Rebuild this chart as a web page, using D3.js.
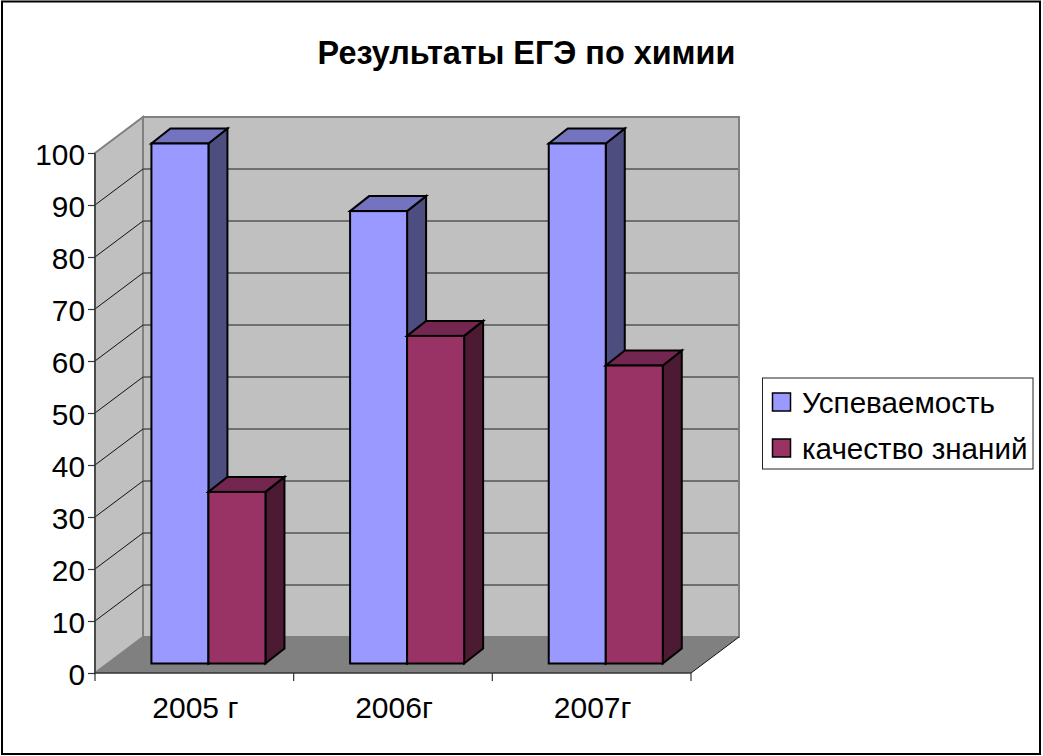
<!DOCTYPE html>
<html><head><meta charset="utf-8">
<script src="https://cdn.jsdelivr.net/npm/d3@7"></script>
<style>html,body{margin:0;padding:0;background:#fff}svg{display:block}text{font-family:"Liberation Sans",Arial,sans-serif;fill:#000}</style>
</head><body><svg id="c" width="1043" height="756"></svg>
<script>
const title = "Результаты ЕГЭ по химии";
const categories = ["2005 г","2006г","2007г"];
const seriesNames = ["Успеваемость","качество знаний"];
const uspevaemost = [100,87,100];
const kachestvo = [33,63,57.3];
const yTicks = [0,10,20,30,40,50,60,70,80,90,100];
const colors = {"Успеваемость":["#9999ff","#7373bf","#4d4d80"],"качество знаний":["#993366","#732650","#4d1a33"]};
const values = {"Успеваемость":uspevaemost,"качество знаний":kachestvo};

const svg = d3.select("#c");
svg.append("rect").attr("x",2).attr("y",1.5).attr("width",1038).attr("height",752.5).attr("fill","#fff").attr("stroke","#000").attr("stroke-width",2);

svg.append("text").attr("x",526.5).attr("y",64).attr("text-anchor","middle").attr("font-size",32.4).attr("font-weight","bold").text(title);

const x0=95,x1=691,y0=673,y100=153,dx=48,dy=-36;
const y = d3.scaleLinear().domain([0,100]).range([y0,y100]);
const xTickScale = d3.scalePoint().domain(d3.range(categories.length+1)).range([x0,x1]);
const barDx=14.1, barDy=-9.5, depthX=19, depthY=-15;
const xCat = d3.scaleBand().domain(categories).range([x0+barDx,x1+barDx]).paddingInner(0.426).paddingOuter(0.213);
const xSer = d3.scaleBand().domain(seriesNames).range([0,xCat.bandwidth()]);
const pts = a=>a.map(p=>p.join(",")).join(" ");

// walls
svg.append("polygon").attr("points",pts([[x0,y(100)],[x0+dx,y(100)+dy],[x0+dx,y(0)+dy],[x0,y(0)]])).attr("fill","#c0c0c0").attr("stroke","#808080").attr("stroke-width",2);
svg.append("polygon").attr("points",pts([[x0+dx,y(100)+dy],[x1+dx,y(100)+dy],[x1+dx,y(0)+dy],[x0+dx,y(0)+dy]])).attr("fill","#c0c0c0").attr("stroke","#808080").attr("stroke-width",2);
svg.append("polygon").attr("points",pts([[x0,y(0)],[x0+dx,y(0)+dy],[x1+dx,y(0)+dy],[x1,y(0)]])).attr("fill","#808080");

// gridlines
yTicks.filter(t=>t>0&&t<100).forEach(t=>{
  svg.append("line").attr("x1",x0+dx).attr("x2",x1+dx-1).attr("y1",y(t)+dy).attr("y2",y(t)+dy).attr("stroke","#555").attr("stroke-width",1.4);
  svg.append("line").attr("x1",x0).attr("x2",x0+dx).attr("y1",y(t)).attr("y2",y(t)+dy).attr("stroke","#111").attr("stroke-width",1);
});
svg.append("line").attr("x1",x1).attr("y1",y0).attr("x2",x1+dx).attr("y2",y0+dy).attr("stroke","#111").attr("stroke-width",1);

// axes
const gy = svg.append("g").attr("transform",`translate(${x0},0)`).call(d3.axisLeft(y).tickValues(yTicks).tickSize(7).tickPadding(3));
gy.select(".domain").attr("stroke","#333").attr("stroke-width",1.4).attr("d",`M0,${y100}V${y0}`);
gy.selectAll(".tick line").attr("stroke","#333").attr("stroke-width",1.2);
gy.selectAll("text").attr("font-size",29.8).attr("font-family",'"Liberation Sans"').attr("fill","#000").attr("dy","0.4em");
svg.append("line").attr("x1",x0).attr("x2",x1).attr("y1",y0).attr("y2",y0).attr("stroke","#333").attr("stroke-width",1.4);
d3.range(categories.length+1).forEach(i=>svg.append("line").attr("x1",xTickScale(i)).attr("x2",xTickScale(i)).attr("y1",y0).attr("y2",y0+8).attr("stroke","#333").attr("stroke-width",1.2));
categories.forEach((c,i)=>svg.append("text").attr("x",(xTickScale(i)+xTickScale(i+1))/2+1).attr("y",718).attr("text-anchor","middle").attr("font-size",30).text(c));

// bars
categories.forEach((c,i)=>{
  seriesNames.forEach(s=>{
    const v=values[s][i], l=xCat(c)+xSer(s), r=l+xSer.bandwidth(), t=y(v)+barDy, b=y(0)+barDy;
    const col=colors[s];
    const st=sel=>sel.attr("stroke","#000").attr("stroke-width",2).attr("stroke-linejoin","miter");
    st(svg.append("polygon").attr("points",pts([[r,t],[r+depthX,t+depthY],[r+depthX,b+depthY],[r,b]])).attr("fill",col[2]));
    st(svg.append("polygon").attr("points",pts([[l,t],[l+depthX,t+depthY],[r+depthX,t+depthY],[r,t]])).attr("fill",col[1]));
    st(svg.append("rect").attr("x",l).attr("y",t).attr("width",r-l).attr("height",b-t).attr("fill",col[0]));
  });
});

// legend
svg.append("rect").attr("x",762.5).attr("y",378).attr("width",270.5).attr("height",91).attr("fill","#fff").attr("stroke","#222").attr("stroke-width",1);
seriesNames.forEach((s,i)=>{
  const ly=393+i*46;
  svg.append("rect").attr("x",772.5).attr("y",ly).attr("width",18).attr("height",18).attr("fill",colors[s][0]).attr("stroke","#000").attr("stroke-width",1.5);
  svg.append("text").attr("x",802).attr("y",ly+20).attr("font-size",29.6).text(s);
});
</script></body></html>
